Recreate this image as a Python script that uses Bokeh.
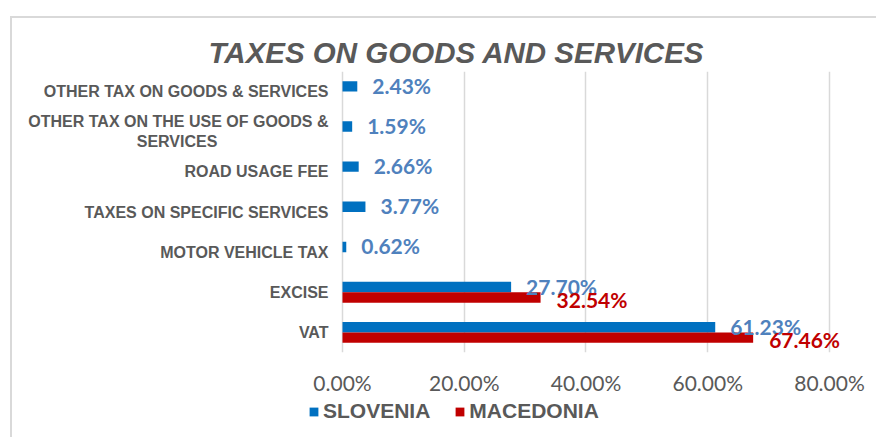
from bokeh.plotting import figure
from bokeh.layouts import column
from bokeh.models import (ColumnDataSource, FactorRange, Range1d, Legend, LegendItem,
                          FixedTicker)
from bokeh.transform import dodge
from bokeh.core.properties import value
from bokeh.embed import file_html
from bokeh.resources import INLINE

title_text = "TAXES ON GOODS AND SERVICES"
categories = [
    "OTHER TAX ON GOODS & SERVICES",
    "OTHER TAX ON THE USE OF GOODS &\nSERVICES" + "\u00a0" * 25,
    "ROAD USAGE FEE",
    "TAXES ON SPECIFIC SERVICES",
    "MOTOR VEHICLE TAX",
    "EXCISE",
    "VAT",
]
slovenia = [2.43, 1.59, 2.66, 3.77, 0.62, 27.70, 61.23]
macedonia = [None, None, None, None, None, 32.54, 67.46]
series_names = ["SLOVENIA", "MACEDONIA"]
x_ticks = [0, 20, 40, 60, 80]
x_tick_labels = ["0.00%", "20.00%", "40.00%", "60.00%", "80.00%"]

GRAY = "#595959"
BLUE = "#0070C0"
RED = "#C00000"
BLUE_LBL = "#4F81BD"

W, H1, H2 = 864, 380, 39
p = figure(width=W, height=H1,
           y_range=FactorRange(factors=categories[::-1], range_padding=0),
           x_range=Range1d(-5.585, 83.78),
           output_backend="svg", toolbar_location=None,
           min_border_left=296, min_border_top=53,
           min_border_right=24, min_border_bottom=H1 - 334)
p.outline_line_color = None
p.background_fill_color = "white"
p.border_fill_color = "white"

p.title.text = title_text
p.title.align = "left"
p.title.offset = -100
p.title.text_font = "Liberation Sans"
p.title.text_font_style = "bold italic"
p.title.text_font_size = "29.5px"
p.title.text_color = GRAY
p.title.standoff = 6

s_src = ColumnDataSource(dict(cat=categories, val=slovenia,
                              lab=["%.2f%%" % v for v in slovenia]))
m_cats = [c for c, v in zip(categories, macedonia) if v is not None]
m_vals = [v for v in macedonia if v is not None]
m_src = ColumnDataSource(dict(cat=m_cats, val=m_vals,
                              lab=["%.2f%%" % v for v in m_vals]))

p.hbar(y=dodge("cat", 0.13, range=p.y_range), left=0, right="val", height=0.26,
       source=s_src, fill_color=BLUE, line_color=None)
p.hbar(y=dodge("cat", -0.13, range=p.y_range), left=0, right="val", height=0.26,
       source=m_src, fill_color=RED, line_color=None)

p.text(x="val", y=dodge("cat", 0.13, range=p.y_range), text="lab", source=s_src,
       x_offset=15, y_offset=-1, text_font=value("Lato"), text_font_style="bold",
       text_font_size="21px", text_color=BLUE_LBL, text_baseline="middle", text_align="left")
p.text(x="val", y=dodge("cat", -0.13, range=p.y_range), text="lab", source=m_src,
       x_offset=16, y_offset=2, text_font=value("Lato"), text_font_style="bold",
       text_font_size="21px", text_color=RED, text_baseline="middle", text_align="left")

# axes
p.xaxis.ticker = FixedTicker(ticks=x_ticks)
p.xaxis.major_label_overrides = {t: l for t, l in zip(x_ticks, x_tick_labels)}
p.xaxis.axis_line_color = None
p.xaxis.major_tick_line_color = None
p.xaxis.minor_tick_line_color = None
p.xaxis.major_tick_out = 0
p.xaxis.major_tick_in = 0
p.xaxis.minor_tick_out = 0
p.xaxis.major_label_text_font = "Lato"
p.xaxis.major_label_text_font_size = "21px"
p.xaxis.major_label_text_color = GRAY
p.xaxis.major_label_standoff = 17

p.yaxis.axis_line_color = None
p.yaxis.major_tick_line_color = None
p.yaxis.minor_tick_line_color = None
p.yaxis.major_tick_out = 0
p.yaxis.major_tick_in = 0
p.yaxis.major_label_text_font = "Liberation Sans"
p.yaxis.major_label_text_font_style = "bold"
p.yaxis.major_label_text_font_size = "16px"
p.yaxis.major_label_text_color = GRAY
p.yaxis.major_label_standoff = -20

p.xgrid.grid_line_color = "#d9d9d9"
p.xgrid.grid_line_width = 1.5
p.ygrid.grid_line_color = None

# legend strip
lf = figure(width=W, height=H2, x_range=Range1d(0, 1), y_range=Range1d(0, 1),
            output_backend="svg", toolbar_location=None,
            min_border_left=0, min_border_right=0, min_border_top=0, min_border_bottom=0)
lf.axis.visible = False
lf.grid.visible = False
lf.outline_line_color = None
lf.border_fill_color = "white"
key_src = ColumnDataSource(dict(y=[0.5], r=[0]))
ls = lf.hbar(y="y", right="r", left=0, height=0.5, source=key_src, fill_color=BLUE, line_color=None)
lm = lf.hbar(y="y", right="r", left=0, height=0.5, source=key_src, fill_color=RED, line_color=None)
legend = Legend(items=[LegendItem(label=series_names[0], renderers=[ls]),
                       LegendItem(label=series_names[1], renderers=[lm])],
                orientation="horizontal", location=(0, 14),
                label_text_font="Liberation Sans", label_text_font_style="bold",
                label_text_font_size="21px", label_text_color=GRAY,
                glyph_width=11, glyph_height=11, label_standoff=4, spacing=24,
                padding=0, margin=0, border_line_color=None, background_fill_alpha=0)
lf.add_layout(legend, "center")

layout = column(p, lf, spacing=0)
layout.styles = {"border-top": "2px solid #d9d9d9", "border-left": "2px solid #d9d9d9",
                 "margin-left": "10px", "margin-top": "16px"}

open("out.html", "w").write(file_html(layout, INLINE))
